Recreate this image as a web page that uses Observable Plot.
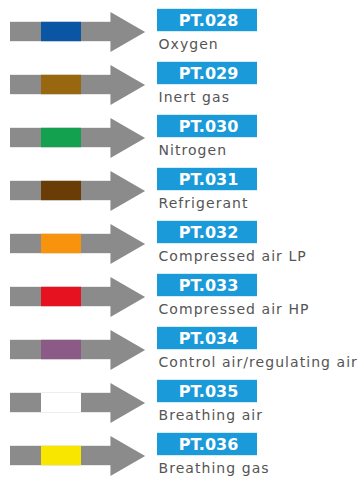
<!DOCTYPE html>
<html>
<head>
<meta charset="utf-8">
<script src="https://cdn.jsdelivr.net/npm/d3@7"></script>
<script src="https://cdn.jsdelivr.net/npm/@observablehq/plot@0.6"></script>
<style>
  html, body { margin: 0; padding: 0; background: #fff; }
  #chart svg { display: block; }
</style>
</head>
<body>
<div id="chart"></div>
<script>
const codes = ["PT.028", "PT.029", "PT.030", "PT.031", "PT.032", "PT.033", "PT.034", "PT.035", "PT.036"];
const names = ["Oxygen", "Inert gas", "Nitrogen", "Refrigerant", "Compressed air LP", "Compressed air HP", "Control air/regulating air", "Breathing air", "Breathing gas"];
const bandColors = ["#0b55a5", "#99670f", "#13a04f", "#6a3d06", "#f7930d", "#e6121f", "#8c5a87", "#ffffff", "#f8e600"];

const rows = codes.map((code, i) => ({code, name: names[i], color: bandColors[i]}));

const W = 362, H = 479;
const step = (458 - 29) / (codes.length - 1);

const chart = Plot.plot({
  width: W,
  height: H,
  margin: 0,
  style: {background: "#ffffff", fontFamily: "DejaVu Sans, sans-serif"},
  x: {domain: [0, W], range: [0, W], axis: null},
  y: {type: "band", domain: codes, range: [29 - step / 2, 458 + step / 2], padding: 0, axis: null},
  marks: [
    // gray pipe body
    Plot.barX(rows, {x1: () => 10, x2: () => 111, y: "code", fill: "#8b8b8b", insetTop: step / 2 - 10, insetBottom: step / 2 - 10}),
    // colour band
    Plot.barX(rows, {x1: () => 41, x2: () => 81, y: "code", fill: "color", insetTop: step / 2 - 10, insetBottom: step / 2 - 10}),
    // arrow head
    Plot.dot(rows, {x: () => 121.5, y: "code", symbol: "triangle", r: 14.85, rotate: 90, fill: "#8b8b8b", stroke: null}),
    // label box
    Plot.barX(rows, {x1: () => 157, x2: () => 257, y: "code", fill: "#1a9ad9", insetTop: step / 2 - 23, insetBottom: step / 2}),
    Plot.text(rows, {x: () => 208, y: "code", text: "code", fill: "white", fontWeight: "bold", fontSize: 16, dy: -11.5}),
    Plot.text(rows, {x: () => 158, y: "code", text: "name", textAnchor: "start", lineAnchor: "bottom", dy: 17, fill: "#555555", fontSize: 14})
  ]
});
d3.select(chart).selectAll('g[aria-label="text"]').filter((d, i) => i === 1).attr("letter-spacing", "1.05px");
document.getElementById("chart").append(chart);
</script>
</body>
</html>
